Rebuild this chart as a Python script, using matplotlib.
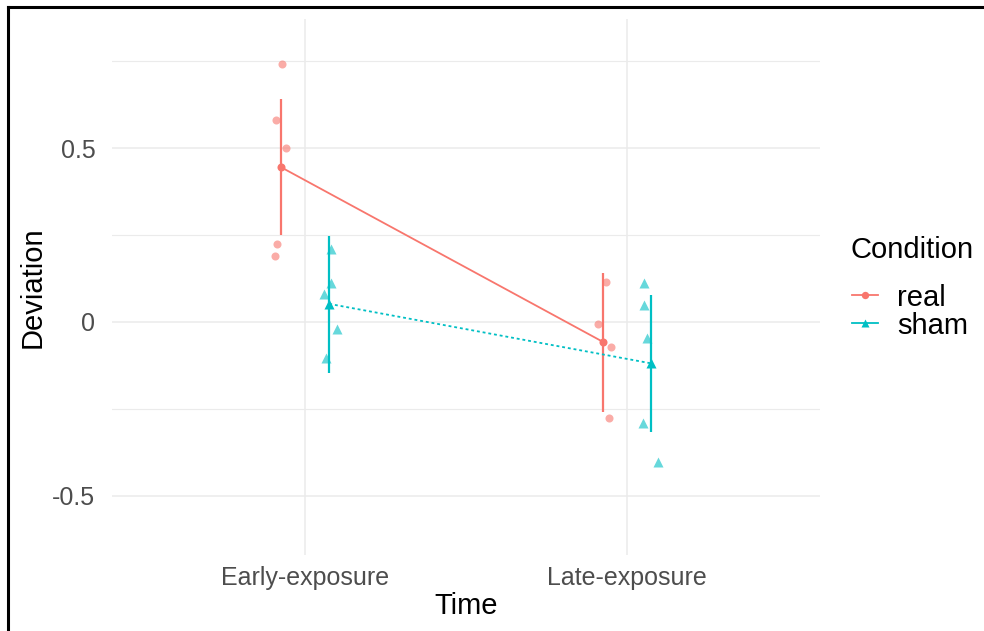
import numpy as np
import matplotlib.pyplot as plt
from matplotlib.lines import Line2D

plt.rcParams['font.family'] = ['Liberation Sans', 'DejaVu Sans']

times = ['Early-exposure', 'Late-exposure']
conditions = ['real', 'sham']
colors = {'real': '#F8766D', 'sham': '#00BFC4'}

# per-condition means and interval limits at each time point
mean_real = [0.445, -0.057]
lo_real = [0.250, -0.258]
hi_real = [0.641, 0.142]
mean_sham = [0.052, -0.119]
lo_sham = [-0.147, -0.315]
hi_sham = [0.247, 0.078]

# individual observations (and their horizontal jitter)
obs_real_early = [0.741, 0.580, 0.500, 0.224, 0.190]
jit_real_early = [0.003, -0.015, 0.015, -0.012, -0.019]
obs_real_late = [0.116, -0.006, -0.071, -0.276]
jit_real_late = [0.011, -0.014, 0.027, 0.019]
obs_sham_early = [0.209, 0.111, 0.080, -0.021, -0.104]
jit_sham_early = [0.007, 0.004, -0.016, 0.023, -0.010]
obs_sham_late = [0.113, 0.049, -0.047, -0.291, -0.402]
jit_sham_late = [-0.022, -0.021, -0.013, -0.024, 0.023]

dodge = {'real': -0.075, 'sham': 0.075}
marker = {'real': 'o', 'sham': '^'}
msize = {'real': 5.8, 'sham': 6.8}
lstyle = {'real': '-', 'sham': (0, (1.6, 1.6))}

data = {
    'real': (mean_real, lo_real, hi_real,
             [(obs_real_early, jit_real_early), (obs_real_late, jit_real_late)]),
    'sham': (mean_sham, lo_sham, hi_sham,
             [(obs_sham_early, jit_sham_early), (obs_sham_late, jit_sham_late)]),
}

fig = plt.figure(figsize=(9.84, 6.31), dpi=100)
ax = fig.add_axes([112/984, 1 - 555/631, (820 - 112)/984, (555 - 19)/631])

xpos = np.arange(1, len(times) + 1)
for cond in conditions:
    mean, lo, hi, obs = data[cond]
    c = colors[cond]
    xs = xpos + dodge[cond]
    for i, (vals, jit) in enumerate(obs):
        ax.plot(xs[i] + np.array(jit), vals, linestyle='none', marker=marker[cond],
                ms=msize[cond], mec='none', mfc=c, alpha=0.6, zorder=3)
    ax.vlines(xs, lo, hi, colors=c, lw=1.6, zorder=4)
    ax.plot(xs, mean, color=c, lw=1.3, linestyle=lstyle[cond], zorder=4)
    ax.plot(xs, mean, linestyle='none', marker=marker[cond], ms=msize[cond],
            mec='none', mfc=c, zorder=5)

ax.set_xlim(0.4, 2.6)
ax.set_ylim(-0.670, 0.871)
ax.set_xticks(xpos)
ax.set_xticklabels(times)
ax.set_yticks([-0.5, 0, 0.5])
ax.set_yticklabels(['-0.5', '0', '0.5'])
ax.set_yticks([-0.25, 0.25, 0.75], minor=True)

ax.grid(True, which='major', color='#EBEBEB', lw=1.1)
ax.grid(True, which='minor', axis='y', color='#EBEBEB', lw=0.8)
ax.set_axisbelow(True)
for s in ax.spines.values():
    s.set_visible(False)
ax.tick_params(which='both', length=0, labelsize=18, labelcolor='#4D4D4D')
ax.tick_params(axis='y', pad=12)
ax.tick_params(axis='x', pad=8)
ax.set_xlabel('Time', fontsize=21, labelpad=1)
ax.set_ylabel('Deviation', fontsize=21, labelpad=4)

# legend: title as its own text, entries below it
fig.text(850/984, 1 - 250/631, 'Condition', fontsize=21, ha='left', va='center')
handles = [Line2D([0], [0], color=colors[c], lw=1.3, marker=marker[c], ms=msize[c] - 0.5,
                  mec='none') for c in conditions]
leg = fig.legend(handles, conditions, loc='center left',
                 bbox_to_anchor=(852/984, 1 - 311.5/631), frameon=False, fontsize=21,
                 borderpad=0, borderaxespad=0, handlelength=0.9, handletextpad=0.65,
                 labelspacing=0.0)

# outer frame (top and left edges only)
fig.add_artist(Line2D([8/984, 8/984], [0, 1 - 7/631], color='black', lw=2.2,
                      transform=fig.transFigure))
fig.add_artist(Line2D([8/984, 1], [1 - 7/631, 1 - 7/631], color='black', lw=2.2,
                      transform=fig.transFigure))

fig.savefig('out.png', dpi=100)
